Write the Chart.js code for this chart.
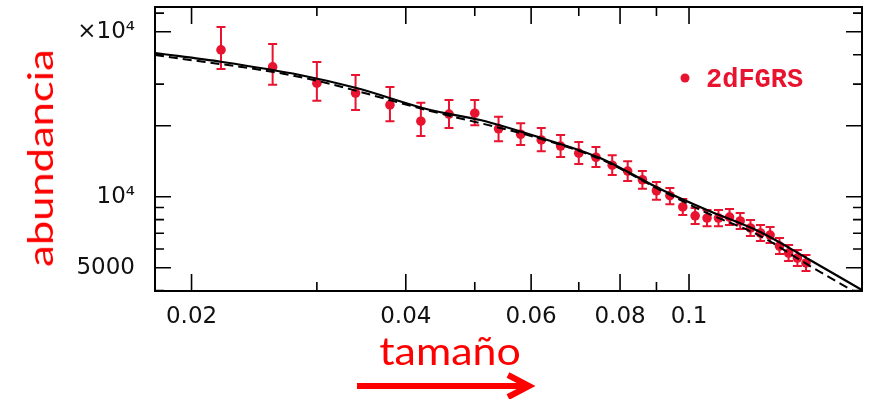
<!DOCTYPE html>
<html>
<head>
<meta charset="utf-8">
<script src="https://cdn.jsdelivr.net/npm/chart.js@4.4.0/dist/chart.umd.min.js"></script>
<style>
  body { margin: 0; background: #fff; }
  #wrap { position: relative; width: 869px; height: 399px; overflow: hidden; }
  #chart { position: absolute; left: 0; top: 0; }
  .axis-title { position: absolute; color: #ff0000; font-family: Lato, sans-serif; white-space: nowrap; line-height: 1; }
  #ytitle { font-size: 34px; left: 40px; top: 158px; transform: translate(-50%, -50%) rotate(-90deg) scaleX(1.28); }
  #xtitle { font-size: 39px; left: 450px; top: 331px; transform: translateX(-50%) scaleX(1.1); }
  #arrow { position: absolute; left: 350px; top: 368px; }
</style>
</head>
<body>
<div id="wrap">
  <canvas id="chart" width="869" height="399"></canvas>
  <div id="ytitle" class="axis-title">abundancia</div>
  <div id="xtitle" class="axis-title">tamaño</div>
  <svg id="arrow" width="190" height="34">
    <line x1="7" y1="18" x2="176" y2="18" stroke="#ff0000" stroke-width="6"/>
    <polyline points="158,7 179,18 158,29" fill="none" stroke="#ff0000" stroke-width="6" stroke-linejoin="miter"/>
  </svg>
</div>
<script>
// 2dFGRS measurements
const sizes = [0.022, 0.026, 0.030, 0.034, 0.038, 0.042, 0.046, 0.050, 0.054, 0.058, 0.062, 0.066,
  0.070, 0.074, 0.078, 0.082, 0.086, 0.090, 0.094, 0.098, 0.102, 0.106, 0.110, 0.114,
  0.118, 0.122, 0.126, 0.130, 0.134, 0.138, 0.142, 0.146];
const counts = [41900, 35500, 30300, 27500, 24500, 20900, 22400, 22600, 19400, 18400, 17400, 16400,
  15300, 14700, 13600, 12850, 11800, 10600, 10100, 9050, 8300, 8120, 8120, 8200,
  7890, 7370, 7020, 6880, 6180, 5770, 5500, 5240];
const countsHi = [52400, 44400, 37200, 32800, 29200, 25000, 25700, 25700, 21800, 20500, 19550, 18250,
  17050, 16250, 15000, 14150, 12850, 11550, 10900, 9770, 8960, 8780, 8780, 8870,
  8530, 7960, 7590, 7440, 6680, 6240, 5940, 5660];
const countsLo = [34800, 29800, 25500, 23300, 20900, 18100, 19550, 20100, 17200, 16550, 15600, 14750,
  13750, 13350, 12350, 11650, 10800, 9700, 9300, 8360, 7660, 7500, 7500, 7590,
  7300, 6810, 6490, 6360, 5720, 5340, 5080, 4840];

// model curves
const solidX = [0.01777, 0.0221, 0.0284, 0.0341, 0.0433, 0.0509, 0.0620, 0.0750, 0.0911, 0.1060, 0.1259, 0.1479, 0.175];
const solidY = [40660, 37240, 32810, 28890, 23310, 21140, 17740, 14590, 10780, 8780, 7087, 5392, 4022];
const dashX = [0.01777, 0.0284, 0.0433, 0.0620, 0.0750, 0.0911, 0.1060, 0.1259, 0.1479, 0.1711];
const dashY = [39870, 32170, 23080, 17570, 14450, 10680, 8530, 6815, 5085, 3945];

// ticks
const xTickVals = [0.02, 0.04, 0.06, 0.08, 0.1];
const xTickLabels = ['0.02', '0.04', '0.06', '0.08', '0.1'];
const xMinor = [0.03, 0.05, 0.07, 0.09];
const yTickVals = [5000, 10000, 50000];
const yTickLabels = ['5000', '10\u2074', '\u00d710\u2074'];
const yMajor = [5000, 10000, 20000, 50000];
const yMinor = [4000, 6000, 7000, 8000, 9000, 30000, 40000, 60000];

const RED = '#e8132f';

const toXY = (xs, ys) => xs.map((x, i) => ({ x: x, y: ys[i] }));

// frame + inward ticks + legend
const framePlugin = {
  id: 'frame',
  afterDraw(chart) {
    const { ctx, chartArea: a, scales } = chart;
    ctx.save();
    ctx.strokeStyle = '#000';
    ctx.lineWidth = 2;
    ctx.strokeRect(a.left, a.top, a.right - a.left, a.bottom - a.top);
    ctx.lineWidth = 1.6;
    ctx.beginPath();
    const xTick = (v, len) => {
      const px = scales.x.getPixelForValue(v);
      ctx.moveTo(px, a.bottom); ctx.lineTo(px, a.bottom - len);
      ctx.moveTo(px, a.top); ctx.lineTo(px, a.top + len);
    };
    const yTick = (v, len) => {
      const py = scales.y.getPixelForValue(v);
      ctx.moveTo(a.left, py); ctx.lineTo(a.left + len, py);
      ctx.moveTo(a.right, py); ctx.lineTo(a.right - len, py);
    };
    xTickVals.forEach(v => xTick(v, 17));
    xMinor.forEach(v => xTick(v, 9));
    yMajor.forEach(v => yTick(v, 16));
    yMinor.forEach(v => yTick(v, 9));
    ctx.stroke();

    // legend
    ctx.fillStyle = RED;
    ctx.beginPath();
    ctx.arc(a.left + 530, a.top + 71, 4.5, 0, Math.PI * 2);
    ctx.fill();
    ctx.font = 'bold 27px "Liberation Mono", monospace';
    ctx.textBaseline = 'middle';
    ctx.fillText('2dFGRS', a.left + 551, a.top + 73);
    ctx.restore();
  }
};

// error bars for the data points
const errorBarPlugin = {
  id: 'errorBars',
  beforeDatasetsDraw(chart) {
    const { ctx, scales } = chart;
    ctx.save();
    ctx.strokeStyle = RED;
    ctx.lineWidth = 2;
    ctx.beginPath();
    sizes.forEach((s, i) => {
      const px = scales.x.getPixelForValue(s);
      const top = scales.y.getPixelForValue(countsHi[i]);
      const bot = scales.y.getPixelForValue(countsLo[i]);
      ctx.moveTo(px, top); ctx.lineTo(px, bot);
      ctx.moveTo(px - 4.5, top); ctx.lineTo(px + 4.5, top);
      ctx.moveTo(px - 4.5, bot); ctx.lineTo(px + 4.5, bot);
    });
    ctx.stroke();
    ctx.restore();
  }
};

new Chart(document.getElementById('chart'), {
  type: 'scatter',
  data: {
    datasets: [
      {
        label: 'model',
        data: toXY(solidX, solidY),
        showLine: true,
        borderColor: '#000',
        borderWidth: 2.2,
        pointRadius: 0,
        cubicInterpolationMode: 'monotone'
      },
      {
        label: 'model dashed',
        data: toXY(dashX, dashY),
        showLine: true,
        borderColor: '#000',
        borderWidth: 2,
        borderDash: [9, 5],
        pointRadius: 0,
        cubicInterpolationMode: 'monotone'
      },
      {
        label: '2dFGRS',
        data: toXY(sizes, counts),
        pointRadius: 4.8,
        pointBackgroundColor: RED,
        pointBorderWidth: 0
      }
    ]
  },
  options: {
    responsive: false,
    animation: false,
    layout: { padding: { left: 0, top: 7, right: 7, bottom: 0 } },
    plugins: { legend: { display: false }, tooltip: { enabled: false } },
    scales: {
      x: {
        type: 'logarithmic',
        min: 0.01777,
        max: 0.175,
        grid: { display: false, drawTicks: false },
        border: { display: false },
        afterFit: s => { s.height = 108; s.paddingLeft = 0; s.paddingRight = 0; },
        afterBuildTicks: s => { s.ticks = xTickVals.map(v => ({ value: v })); },
        ticks: {
          autoSkip: false,
          maxRotation: 0,
          padding: 12,
          color: '#111',
          font: { family: 'DejaVu Sans', size: 23 },
          callback: (v, i) => xTickLabels[i]
        }
      },
      y: {
        type: 'logarithmic',
        min: 3985,
        max: 63700,
        grid: { display: false, drawTicks: false },
        border: { display: false },
        afterFit: s => { s.width = 155; s.paddingTop = 0; s.paddingBottom = 0; },
        afterBuildTicks: s => { s.ticks = yTickVals.map(v => ({ value: v })); },
        ticks: {
          autoSkip: false,
          padding: 20,
          color: '#111',
          font: { family: 'DejaVu Sans', size: 23 },
          callback: (v, i) => yTickLabels[i]
        }
      }
    }
  },
  plugins: [errorBarPlugin, framePlugin]
});
</script>
</body>
</html>
